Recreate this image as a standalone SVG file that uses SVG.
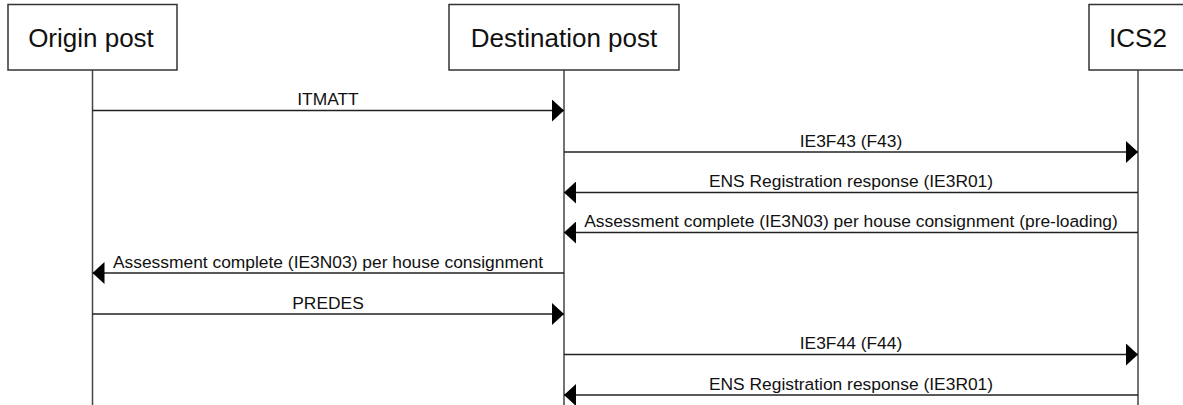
<svg xmlns="http://www.w3.org/2000/svg" width="1183" height="405" viewBox="0 0 1183 405">
<style>
.box{fill:#fff;stroke:#333;stroke-width:1.5}
.life{stroke:#444;stroke-width:1.5;fill:none}
.msg{stroke:#222;stroke-width:1.3;fill:none}
.title{font-family:"Liberation Sans",Arial,sans-serif;font-size:26px;fill:#111;text-anchor:middle}
.lbl{font-family:"Liberation Sans",Arial,sans-serif;font-size:17.4px;fill:#111;text-anchor:middle}
.head{fill:#000}
</style>
<defs>
<marker id="ah" viewBox="0 0 12 22" refX="12" refY="11" markerWidth="12" markerHeight="22" markerUnits="userSpaceOnUse" orient="auto">
<path class="head" d="M0,0 L12,11 L0,22 Z"/>
</marker>
</defs>
<g id="lifelines">
<line class="life" x1="92.5" y1="70" x2="92.5" y2="405"/>
<line class="life" x1="564" y1="70" x2="564" y2="405"/>
<line class="life" x1="1138" y1="70" x2="1138" y2="405"/>
</g>
<g id="origin-post">
<rect class="box" x="8" y="4.5" width="169" height="65.5"/>
<text class="title" x="91" y="47">Origin post</text>
</g>
<g id="destination-post">
<rect class="box" x="449" y="4.5" width="230" height="65.5"/>
<text class="title" x="564" y="47">Destination post</text>
</g>
<g id="ics2">
<rect class="box" x="1089" y="4.5" width="98" height="65.5"/>
<text class="title" x="1138" y="47">ICS2</text>
</g>
<g id="connectors">
<line class="msg" x1="92.5" y1="110.5" x2="564" y2="110.5" marker-end="url(#ah)"/>
<text class="lbl" x="328" y="105">ITMATT</text>
<line class="msg" x1="564" y1="152" x2="1138" y2="152" marker-end="url(#ah)"/>
<text class="lbl" x="851" y="146.5">IE3F43 (F43)</text>
<line class="msg" x1="1138" y1="192.5" x2="564" y2="192.5" marker-end="url(#ah)"/>
<text class="lbl" x="851" y="187">ENS Registration response (IE3R01)</text>
<line class="msg" x1="1138" y1="232.5" x2="564" y2="232.5" marker-end="url(#ah)"/>
<text class="lbl" x="851" y="227">Assessment complete (IE3N03) per house consignment (pre-loading)</text>
<line class="msg" x1="564" y1="273" x2="92.5" y2="273" marker-end="url(#ah)"/>
<text class="lbl" x="328" y="267.5">Assessment complete (IE3N03) per house consignment</text>
<line class="msg" x1="92.5" y1="314" x2="564" y2="314" marker-end="url(#ah)"/>
<text class="lbl" x="328" y="308.5">PREDES</text>
<line class="msg" x1="564" y1="354.5" x2="1138" y2="354.5" marker-end="url(#ah)"/>
<text class="lbl" x="851" y="349">IE3F44 (F44)</text>
<line class="msg" x1="1138" y1="395" x2="564" y2="395" marker-end="url(#ah)"/>
<text class="lbl" x="851" y="389.5">ENS Registration response (IE3R01)</text>
</g>
</svg>
